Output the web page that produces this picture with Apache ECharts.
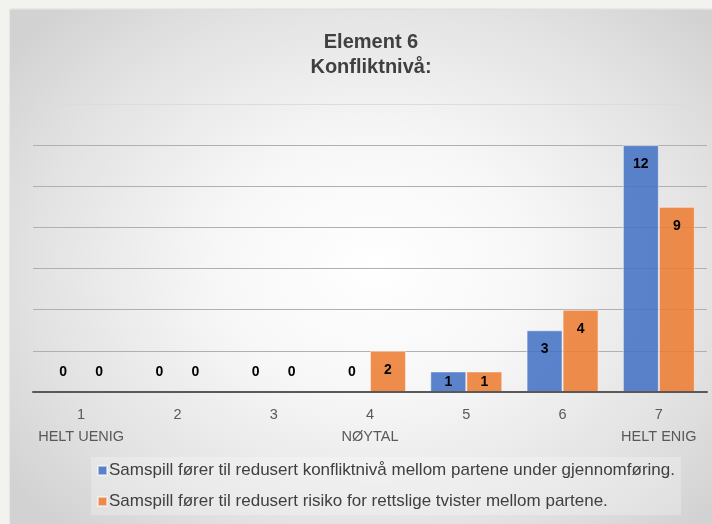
<!DOCTYPE html>
<html>
<head>
<meta charset="utf-8">
<script src="https://cdn.jsdelivr.net/npm/echarts@6/dist/echarts.min.js"></script>
<style>
  html, body { margin: 0; padding: 0; width: 712px; height: 524px; background: #f2f2ee; overflow: hidden; }
  #panel { position: absolute; left: 10px; top: 10px; width: 702px; height: 514px;
    background: radial-gradient(ellipse 65% 70% at 52% 50%, #ffffff 0%, #f7f7f7 35%, #e2e2e2 75%, #d2d2d2 100%);
    box-shadow: 0 -1px 2px rgba(0,0,0,0.12); }
  #chart { position: absolute; left: 0; top: 0; width: 712px; height: 524px; }
</style>
</head>
<body>
<div id="panel"></div>
<div id="chart"></div>
<script>
const titleLines = ["Element 6", "Konfliktnivå:"];
const categories = ["1\nHELT UENIG", "2", "3", "4\nNØYTAL", "5", "6", "7\nHELT ENIG"];
const seriesNames = [
  "Samspill fører til redusert konfliktnivå mellom partene under gjennomføring.",
  "Samspill fører til redusert risiko for rettslige tvister mellom partene."
];
const konfliktniva = [0, 0, 0, 0, 1, 3, 12];
const rettsligeTvister = [0, 0, 0, 2, 1, 4, 9];
const yMax = 14;
const yInterval = 2;

const colors = ["rgba(68,114,196,0.87)", "rgba(237,125,49,0.87)"];

function buildData(values) {
  return values.map(function (v) {
    let label;
    if (v === 0) label = { position: "top", distance: 12 };
    else if (v <= 1) label = { position: "inside" };
    else label = { position: "insideTop", distance: 12 };
    return { value: v, label: label };
  });
}

const labelStyle = { show: true, color: "#000", fontWeight: "bold", fontSize: 14, fontFamily: "Liberation Sans" };

const chart = echarts.init(document.getElementById("chart"), null, { renderer: "canvas" });
chart.setOption({
  backgroundColor: "transparent",
  animation: false,
  graphic: [{
    type: "text",
    x: 371,
    y: 30,
    style: {
      text: titleLines.join("\n"),
      align: "center",
      verticalAlign: "top",
      fontFamily: "Liberation Sans",
      fontSize: 20,
      fontWeight: "bold",
      fill: "#404040",
      lineHeight: 25
    }
  }],
  legend: {
    orient: "vertical",
    left: 91,
    top: 457,
    padding: [5, 6, 5, 6],
    itemGap: 14,
    itemWidth: 9,
    itemHeight: 9,
    icon: "rect",
    backgroundColor: "rgba(255,255,255,0.25)",
    textStyle: { fontFamily: "Liberation Sans", fontSize: 17, color: "#404040", padding: [0, 0, 0, -3] },
    data: seriesNames
  },
  grid: { left: 33, right: 5, top: 104, bottom: 132, containLabel: false },
  xAxis: {
    type: "category",
    data: categories,
    z: 5,
    axisLine: { lineStyle: { color: "#595959", width: 2 } },
    axisTick: { show: false },
    axisLabel: { interval: 0, color: "#595959", fontFamily: "Liberation Sans", fontSize: 14.5, lineHeight: 22, margin: 12 }
  },
  yAxis: {
    type: "value",
    min: 0,
    max: yMax,
    interval: yInterval,
    axisLabel: { show: false },
    axisLine: { show: false },
    axisTick: { show: false },
    splitLine: { lineStyle: { color: ["#b0b0b0", "#b0b0b0", "#b0b0b0", "#b0b0b0", "#b0b0b0", "#b0b0b0", "#b0b0b0", "#dcdcdc"], width: 1 } }
  },
  series: [
    {
      name: seriesNames[0], type: "bar", barWidth: 36, barGap: "0%",
      itemStyle: { color: colors[0], borderColor: "rgba(255,255,255,0.5)", borderWidth: 1 },
      label: labelStyle,
      data: buildData(konfliktniva)
    },
    {
      name: seriesNames[1], type: "bar", barWidth: 36, barGap: "0%",
      itemStyle: { color: colors[1], borderColor: "rgba(255,255,255,0.5)", borderWidth: 1 },
      label: labelStyle,
      data: buildData(rettsligeTvister)
    }
  ]
});
</script>
</body>
</html>
